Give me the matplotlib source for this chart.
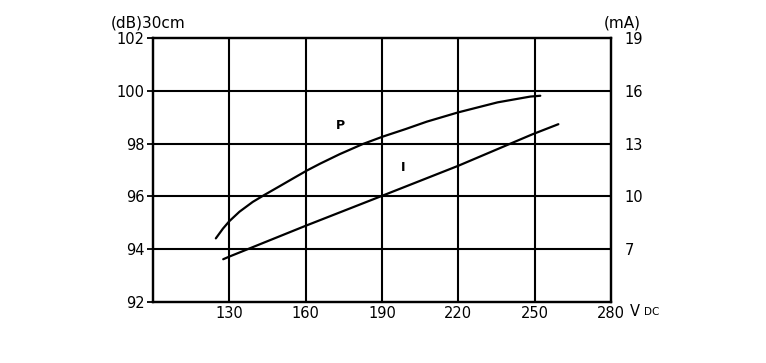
import matplotlib
matplotlib.use("Agg")
import matplotlib.pyplot as plt

# Data
p_volts = [124.7, 127.5, 130, 134, 139.2, 143.7, 149.5, 154.7, 160.5, 165.7, 173.4,
           182.4, 190.2, 199.3, 207.6, 219.9, 235.4, 248.3, 252.2]
p_db = [94.41, 94.78, 95.06, 95.42, 95.79, 96.05, 96.37, 96.66, 96.98, 97.24, 97.60,
        97.98, 98.26, 98.55, 98.83, 99.18, 99.56, 99.78, 99.81]

i_volts = [127.6, 130, 160, 190, 220, 249, 259.3]
i_ma = [6.43, 6.58, 8.33, 10.03, 11.74, 13.52, 14.1]

x_ticks = [130, 160, 190, 220, 250, 280]
left_ticks = [92, 94, 96, 98, 100, 102]
right_ticks = [7, 10, 13, 16, 19]

plt.rcParams['font.family'] = ['DejaVu Sans']
fig = plt.figure(figsize=(7.66, 3.63), dpi=100)
ax = fig.add_axes([0.1997, 0.168, 0.598, 0.7275])
ax.set_xlim(100, 280)
ax.set_ylim(92, 102)
ax.set_xticks(x_ticks)
ax.set_xticklabels([str(v) for v in x_ticks])
ax.set_yticks(left_ticks)
ax.set_yticklabels([str(v) for v in left_ticks])
for v in x_ticks[:-1]:
    ax.axvline(v, color='black', lw=1.5, zorder=1)
for v in left_ticks[1:-1]:
    ax.axhline(v, color='black', lw=1.5, zorder=1)
for s in ax.spines.values():
    s.set_linewidth(1.6)
ax.tick_params(axis='x', length=0, pad=3, labelsize=10.5)
ax.tick_params(axis='y', length=4, width=1.3, pad=2, labelsize=10.5)

ax.plot(p_volts, p_db, color='black', lw=1.6, zorder=3,
        solid_joinstyle='round', solid_capstyle='round')

ax2 = ax.twinx()
ax2.set_ylim(4, 19)
ax2.set_yticks(right_ticks)
ax2.set_yticklabels([str(v) for v in right_ticks])
ax2.tick_params(axis='y', length=0, pad=10, labelsize=10.5)
for s in ax2.spines.values():
    s.set_linewidth(1.6)
ax2.plot(i_volts, i_ma, color='black', lw=1.6, zorder=3,
         solid_joinstyle='round', solid_capstyle='round')

ax.text(173.8, 98.68, 'P', fontsize=9, ha='center', va='center', fontweight='bold')
ax.text(198.2, 97.1, 'I', fontsize=9, ha='center', va='center', fontweight='bold')

fig.text(111/766, 1 - 23/363, '(dB)30cm', fontsize=11, ha='left', va='center')
fig.text(622/766, 1 - 23/363, '(mA)', fontsize=11, ha='center', va='center')
fig.text(630/766, 1 - 311/363, 'V', fontsize=10.5, ha='left', va='center')
fig.text(644/766, 1 - 312/363, 'DC', fontsize=7.5, ha='left', va='center')

fig.savefig('out.png', dpi=100)
